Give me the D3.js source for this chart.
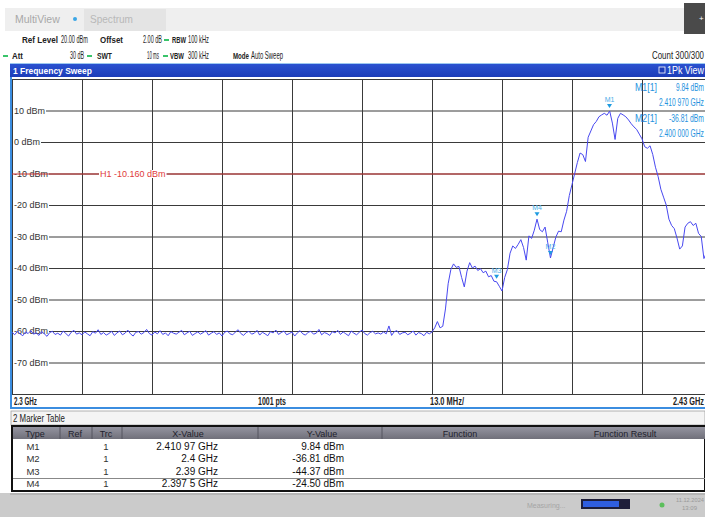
<!DOCTYPE html>
<html><head><meta charset="utf-8">
<script src="https://cdn.jsdelivr.net/npm/d3@7"></script>
<style>
body{margin:0;background:#fff;overflow:hidden;}
svg{display:block;font-family:"Liberation Sans",Arial,sans-serif;}
</style></head><body><svg id="c" width="705" height="517"></svg>
<script>
// ---------- data ----------
const traceStartGHz = 2.3;
const traceStopGHz = 2.43;
const traceLevels = [
 -60.4,-61.2,-60.1,-60.9,-61.5,-60.3,-60.8,-59.9,-61.0,-60.6,
 -61.4,-60.2,-60.9,-61.7,-60.5,-60.1,-61.1,-60.7,-61.3,-60.0,
 -60.8,-61.6,-60.4,-59.8,-61.0,-60.6,-61.2,-60.3,-60.9,-61.5,
 -60.2,-60.7,-59.6,-61.1,-60.5,-61.3,-60.8,-60.1,-61.4,-60.6,
 -60.0,-61.2,-60.7,-59.7,-60.9,-61.6,-60.4,-60.2,-61.0,-60.5,
 -59.5,-60.8,-61.3,-60.3,-60.9,-59.9,-61.1,-60.6,-61.5,-60.2,
 -60.7,-61.0,-60.4,-59.8,-61.2,-60.6,-60.1,-61.4,-60.8,-60.3,
 -61.0,-60.5,-59.9,-61.3,-60.7,-60.2,-61.1,-60.6,-61.6,-60.4,
 -60.0,-60.9,-61.2,-60.3,-59.6,-60.8,-61.4,-60.5,-60.1,-61.0,
 -60.7,-59.8,-61.3,-60.4,-60.9,-61.5,-60.2,-60.6,-59.7,-61.1,
 -60.5,-60.0,-61.2,-60.8,-60.3,-61.6,-60.6,-59.9,-60.9,-61.3,
 -60.4,-60.1,-61.0,-60.7,-59.5,-61.2,-60.5,-60.8,-61.4,-60.2,
 -60.6,-59.8,-61.1,-60.3,-60.9,-61.5,-60.0,-60.7,-61.2,-60.4,
 -59.7,-60.8,-61.3,-60.5,-60.1,-60.9,-60.6,-61.0,-60.3,-60.9,
 -58.4,-61.4,-60.2,-59.9,-61.1,-60.6,-60.4,-61.2,-60.7,-60.0,
 -61.3,-60.5,-60.8,-61.5,-60.4,-60.9,
 -60.3,-59.0,-57.0,-59.0,-58.5,-53.0,-45.0,-40.5,-38.7,-39.8,
 -39.5,-43.0,-46.0,-41.0,-38.3,-40.0,-39.4,-40.8,-40.2,-41.5,
 -41.0,-42.8,-42.4,-44.2,-44.37,-45.8,-47.3,-43.0,-40.5,-35.3,
 -33.0,-33.8,-32.5,-31.0,-33.5,-37.5,-29.8,-30.6,-28.0,-24.5,
 -27.8,-28.5,-27.0,-32.0,-36.81,-33.5,-30.2,-28.3,-28.5,-24.8,
 -22.0,-17.0,-13.5,-10.0,-6.5,-3.5,-4.0,-6.2,1.5,3.5,
 5.5,6.5,8.0,8.6,9.1,8.5,9.84,6.0,0.8,7.5,
 9.1,8.6,8.0,7.0,5.8,4.8,4.0,2.5,1.0,-1.5,
 -2.0,-1.2,-4.0,-8.0,-11.0,-15.0,-17.5,-20.0,-24.5,-26.5,
 -27.5,-30.5,-34.0,-33.0,-27.0,-25.8,-25.3,-26.5,-25.8,-29.0,
 -30.0,-37.0,-35.0,-33.0,-32.0
];
const yTicks = [10, 0, -10, -20, -30, -40, -50, -60, -70];
const yTickLabels = ["10 dBm","0 dBm","-10 dBm","-20 dBm","-30 dBm","-40 dBm","-50 dBm","-60 dBm","-70 dBm"];
const xGridFreqs = [2.3,2.313,2.326,2.339,2.352,2.365,2.378,2.391,2.404,2.417,2.43];
const yRange = [-80, 20];
const lineH1 = -10.16;
const lineH1Label = "H1 -10.160 dBm";
const markerNames = ["M1","M2","M3","M4"];
const markerFreqs = [2.41097, 2.4, 2.39, 2.3975];
const markerLevels = [9.84, -36.81, -44.37, -24.50];
const markerXText = ["2.410 97 GHz","2.4 GHz","2.39 GHz","2.397 5 GHz"];
const markerYText = ["9.84 dBm","-36.81 dBm","-44.37 dBm","-24.50 dBm"];
const markerInfo = [["M1[1]","9.84 dBm","2.410 970 GHz"],["M2[1]","-36.81 dBm","2.400 000 GHz"]];
const bottomLabels = ["2.3 GHz","1001 pts","13.0 MHz/","2.43 GHz"];
const tableHeaders = ["Type","Ref","Trc","X-Value","Y-Value","Function","Function Result"];

// ---------- layout ----------
const svg = d3.select("#c");
const W = 705;
const px0 = 12, px1 = 712, py0 = 79, py1 = 394;
const x = d3.scaleLinear().domain([traceStartGHz, traceStopGHz]).range([px0, px1]);
const y = d3.scaleLinear().domain(yRange).range([py1, py0]);
const step = (traceStopGHz - traceStartGHz) / (traceLevels.length - 1);
const trace = traceLevels.map((v, i) => [traceStartGHz + i * step, v]);

// condensed text: placed at (xp,yp), squeezed horizontally to width w
function ct(parent, xp, yp, txt, w, opt = {}) {
  const g = parent.append("g");
  const t = g.append("text").text(txt)
    .attr("font-size", opt.size || 9.5)
    .attr("font-weight", opt.bold ? "bold" : "normal")
    .attr("fill", opt.fill || "#222");
  const nat = t.node().getComputedTextLength();
  const s = Math.min(1, w / nat);
  g.attr("transform", `translate(${xp},${yp}) scale(${s},1)`);
  return g;
}

// header tab bar
svg.append("rect").attr("x",5).attr("y",8).attr("width",679).attr("height",23).attr("fill","#efefef");
svg.append("rect").attr("x",84).attr("y",9).attr("width",82).attr("height",22).attr("fill","#e4e4e4");
ct(svg,15,23,"MultiView",48,{size:10.5,fill:"#a8a8a8"});
svg.append("circle").attr("cx",75).attr("cy",19).attr("r",2).attr("fill","#3aa6e6");
ct(svg,90,23,"Spectrum",43,{size:10.5,fill:"#b8b8b8"});
svg.append("rect").attr("x",684).attr("y",3).attr("width",21).attr("height",31).attr("fill","#4a4a4a");
svg.append("text").attr("x",699).attr("y",21).attr("font-size",8).attr("fill","#fff").text("+");

// settings rows
function dash(xp, yp){ svg.append("rect").attr("x",xp).attr("y",yp-4).attr("width",5).attr("height",2).attr("fill","#39c46a"); }
ct(svg,22,43,"Ref Level",36,{bold:true}); ct(svg,61,43,"20.00 dBm",27,{size:10});
ct(svg,100,43,"Offset",23,{bold:true}); ct(svg,143,43,"2.00 dB",19,{size:10}); dash(164,43);
ct(svg,172,43,"RBW",14,{bold:true}); ct(svg,188,43,"100 kHz",21,{size:10});
dash(3,59); ct(svg,12,59,"Att",11,{bold:true}); ct(svg,70,59,"30 dB",14,{size:10}); dash(87,59);
ct(svg,97,59,"SWT",15,{bold:true}); ct(svg,147,59,"10 ms",12,{size:10}); dash(163,59);
ct(svg,170,59,"VBW",14,{bold:true}); ct(svg,188,59,"300 kHz",21,{size:10});
ct(svg,233,59,"Mode",16,{bold:true}); ct(svg,251,59,"Auto Sweep",32,{size:10});
ct(svg,652,59,"Count 300/300",52,{size:10});

// title bar
svg.append("rect").attr("x",10).attr("y",63).attr("width",W-10).attr("height",1).attr("fill","#9cc8f0");
const grad = svg.append("defs").append("linearGradient").attr("id","bar").attr("x1",0).attr("x2",0).attr("y1",0).attr("y2",1);
grad.append("stop").attr("offset",0).attr("stop-color","#2a52d0");
grad.append("stop").attr("offset",1).attr("stop-color","#1c3cb8");
svg.append("rect").attr("x",10).attr("y",64).attr("width",W-10).attr("height",13).attr("fill","url(#bar)");
ct(svg,13,74,"1 Frequency Sweep",79,{bold:true,fill:"#fff"});
svg.append("rect").attr("x",659).attr("y",67).attr("width",6).attr("height",6).attr("fill","#1c3cb8").attr("stroke","#fff").attr("stroke-width",0.8);
ct(svg,667,74,"1Pk View",37,{size:10,fill:"#fff"});

// plot area
svg.append("defs").append("clipPath").attr("id","pc").append("rect")
  .attr("x",px0).attr("y",py0-1).attr("width",W-px0).attr("height",py1-py0+2);
const plot = svg.append("g").attr("clip-path","url(#pc)");

// grid via axes
plot.append("g").attr("transform",`translate(${px0},0)`)
  .call(d3.axisLeft(y).tickValues(d3.range(-80,21,10)).tickSize(-(px1-px0)).tickFormat(""))
  .call(g => g.select(".domain").remove())
  .call(g => g.selectAll("line").attr("stroke","#3a3a3a").attr("stroke-width",1));
plot.append("g").attr("transform",`translate(0,${py0})`)
  .call(d3.axisBottom(x).tickValues(xGridFreqs).tickSize(py1-py0).tickFormat(""))
  .call(g => g.select(".domain").remove())
  .call(g => g.selectAll("line").attr("stroke","#3a3a3a").attr("stroke-width",1));

// y labels with white backing
const yl = plot.append("g").attr("font-size",9).attr("fill","#333");
yTicks.forEach((t,i) => {
  const tx = yl.append("text").attr("x",14).attr("y",y(t)+3).text(yTickLabels[i]);
  const bb = tx.node().getBBox();
  yl.insert("rect","text").attr("x",13).attr("y",y(t)-4).attr("width",bb.width+2).attr("height",8).attr("fill","#fff");
});

// H1 line
plot.append("line").attr("x1",px0).attr("x2",px1).attr("y1",y(lineH1)).attr("y2",y(lineH1)).attr("stroke","#c83030").attr("stroke-width",1);
const h1t = plot.append("text").attr("x",100).attr("y",y(lineH1)+3).attr("font-size",9).attr("fill","#e03a3a").text(lineH1Label);
const hb = h1t.node().getBBox();
plot.insert("rect", () => h1t.node()).attr("x",hb.x-1).attr("y",y(lineH1)-4).attr("width",hb.width+2).attr("height",8).attr("fill","#fff");

// trace
plot.append("path").datum(trace)
  .attr("d", d3.line().x(d => x(d[0])).y(d => y(d[1])))
  .attr("fill","none").attr("stroke","#4848f0").attr("stroke-width",1);

// markers
markerNames.forEach((m,i) => {
  const mx = x(markerFreqs[i]), my = y(markerLevels[i]);
  plot.append("path").attr("d",`M${mx-2.5},${my-7}L${mx+2.5},${my-7}L${mx},${my-3}Z`).attr("fill","#1f9be0");
  plot.append("text").attr("x",mx).attr("y",my-9).attr("text-anchor","middle").attr("font-size",7).attr("fill","#4aaee8").text(m);
});

// marker info (top right)
markerInfo.forEach((r,i) => {
  const b = 91 + i*31;
  ct(svg,635,b,r[0],22,{size:10,fill:"#2592de"});
  ct(svg,i===0?676:669,b,r[1],i===0?28:35,{size:10,fill:"#2592de"});
  ct(svg,659,b+15,r[2],45,{size:10,fill:"#2592de"});
});

// bottom label row
svg.append("rect").attr("x",px0).attr("y",py1+1).attr("width",W-px0).attr("height",13).attr("fill","#fff");
ct(svg,14,405,bottomLabels[0],23,{bold:true,size:10});
ct(svg,258,405,bottomLabels[1],28,{bold:true,size:10});
ct(svg,430,405,bottomLabels[2],34,{bold:true,size:10});
ct(svg,673,405,bottomLabels[3],31,{bold:true,size:10});
svg.append("rect").attr("x",10).attr("y",77).attr("width",2).attr("height",332).attr("fill","#3b8de0");
svg.append("rect").attr("x",10).attr("y",407).attr("width",W-10).attr("height",2).attr("fill","#3b8de0");

// marker table
svg.append("rect").attr("x",11).attr("y",411).attr("width",W-11).attr("height",14).attr("fill","#f4f4f4").attr("stroke","#a0a0a0").attr("stroke-width",0.8);
ct(svg,13,422,"2 Marker Table",52,{size:10});
svg.append("rect").attr("x",12).attr("y",426).attr("width",W-12).attr("height",65).attr("fill","#fff").attr("stroke","#111").attr("stroke-width",2);
const hg = svg.append("defs").append("linearGradient").attr("id","hdr").attr("x1",0).attr("x2",0).attr("y1",0).attr("y2",1);
hg.append("stop").attr("offset",0).attr("stop-color","#9494a0");
hg.append("stop").attr("offset",1).attr("stop-color","#70707a");
svg.append("rect").attr("x",13).attr("y",427).attr("width",W-13).attr("height",12).attr("fill","url(#hdr)");
[60,92,122,258,382].forEach(sx => svg.append("line").attr("x1",sx).attr("x2",sx).attr("y1",427).attr("y2",439).attr("stroke","#55555f"));
const hx = [35,75,106,188,322,460,625];
const th = svg.append("g").attr("font-size",9).attr("fill","#22222c").attr("text-anchor","middle");
tableHeaders.forEach((h,i) => th.append("text").attr("x",hx[i]).attr("y",437).text(h));
svg.append("line").attr("x1",13).attr("x2",W).attr("y1",478.5).attr("y2",478.5).attr("stroke","#888");
const tb = svg.append("g").attr("font-size",10).attr("fill","#111");
markerNames.forEach((m,i) => {
  const b = 450 + i*12.4;
  tb.append("text").attr("x",33).attr("y",b).attr("text-anchor","middle").attr("font-size",9.5).attr("fill","#333").text(m);
  tb.append("text").attr("x",106).attr("y",b).attr("text-anchor","middle").attr("font-size",9.5).attr("fill","#333").text("1");
  tb.append("text").attr("x",218).attr("y",b).attr("text-anchor","end").text(markerXText[i]);
  tb.append("text").attr("x",344).attr("y",b).attr("text-anchor","end").text(markerYText[i]);
});

// status bar
svg.append("rect").attr("x",0).attr("y",493).attr("width",W).attr("height",24).attr("fill","#cbcbcb");
svg.append("rect").attr("x",10).attr("y",493).attr("width",W-10).attr("height",2).attr("fill","#b5b5b5");
svg.append("text").attr("x",527).attr("y",508).attr("font-size",7).attr("fill","#a5a5a5").text("Measuring...");
svg.append("rect").attr("x",581).attr("y",499).attr("width",49).attr("height",10).attr("fill","#1e1e3a");
svg.append("rect").attr("x",583).attr("y",501).attr("width",36).attr("height",6).attr("fill","#2f5ee0");
svg.append("circle").attr("cx",662).attr("cy",505).attr("r",2.5).attr("fill","#5cbf5c");
ct(svg,676,502,"11.12.2024",28,{size:6,fill:"#9a9a9a"});
svg.append("text").attr("x",682).attr("y",510).attr("font-size",6).attr("fill","#9a9a9a").text("13:09");
</script></body></html>
